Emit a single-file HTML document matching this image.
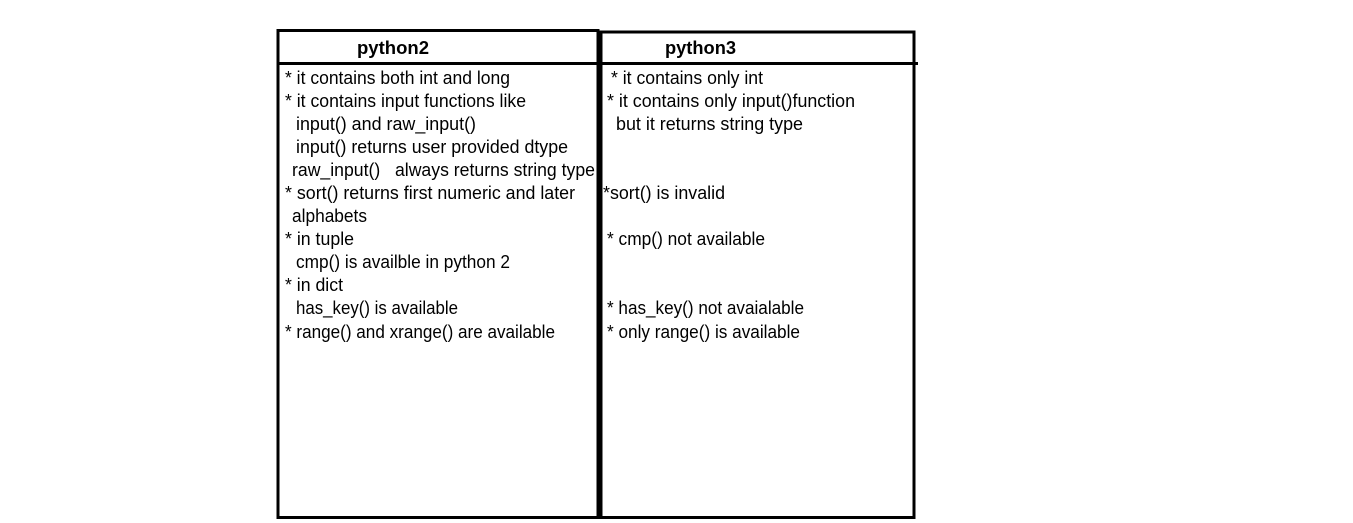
<!DOCTYPE html>
<html><head><meta charset="utf-8"><style>html,body{margin:0;padding:0;background:#fff;width:1353px;height:523px;overflow:hidden}</style></head>
<body>
<svg width="1353" height="523" xmlns="http://www.w3.org/2000/svg" font-family="Liberation Sans, sans-serif" font-size="18" fill="#000">
<g stroke="#000" stroke-width="3" fill="none">
<rect x="278" y="30.5" width="320" height="487"/>
<rect x="601" y="32" width="313" height="485.5"/>
<line x1="278" y1="63.5" x2="918" y2="63.5"/>
</g>
<g font-weight="bold">
<text x="357" y="54" textLength="72" lengthAdjust="spacingAndGlyphs">python2</text>
<text x="665" y="54" textLength="71" lengthAdjust="spacingAndGlyphs">python3</text>
</g>
<g>
<text x="285" y="84" textLength="225" lengthAdjust="spacingAndGlyphs">* it contains both int and long</text>
<text x="285" y="107" textLength="241" lengthAdjust="spacingAndGlyphs">* it contains input functions like</text>
<text x="296" y="130" textLength="180" lengthAdjust="spacingAndGlyphs">input() and raw_input()</text>
<text x="296" y="153" textLength="272" lengthAdjust="spacingAndGlyphs">input() returns user provided dtype</text>
<text x="292" y="176" textLength="303" lengthAdjust="spacingAndGlyphs" xml:space="preserve">raw_input()   always returns string type</text>
<text x="285" y="199" textLength="290" lengthAdjust="spacingAndGlyphs">* sort() returns first numeric and later</text>
<text x="292" y="222" textLength="75" lengthAdjust="spacingAndGlyphs">alphabets</text>
<text x="285" y="245" textLength="69" lengthAdjust="spacingAndGlyphs">* in tuple</text>
<text x="296" y="268" textLength="214" lengthAdjust="spacingAndGlyphs">cmp() is availble in python 2</text>
<text x="285" y="291" textLength="58" lengthAdjust="spacingAndGlyphs">* in dict</text>
<text x="296" y="314" textLength="162" lengthAdjust="spacingAndGlyphs">has_key() is available</text>
<text x="285" y="338" textLength="270" lengthAdjust="spacingAndGlyphs">* range() and xrange() are available</text>

<text x="611" y="84" textLength="152" lengthAdjust="spacingAndGlyphs">* it contains only int</text>
<text x="607" y="107" textLength="248" lengthAdjust="spacingAndGlyphs">* it contains only input()function</text>
<text x="616" y="130" textLength="187" lengthAdjust="spacingAndGlyphs">but it returns string type</text>
<text x="603" y="199" textLength="122" lengthAdjust="spacingAndGlyphs">*sort() is invalid</text>
<text x="607" y="245" textLength="158" lengthAdjust="spacingAndGlyphs">* cmp() not available</text>
<text x="607" y="314" textLength="197" lengthAdjust="spacingAndGlyphs">* has_key() not avaialable</text>
<text x="607" y="338" textLength="193" lengthAdjust="spacingAndGlyphs">* only range() is available</text>
</g>
</svg>
</body></html>
